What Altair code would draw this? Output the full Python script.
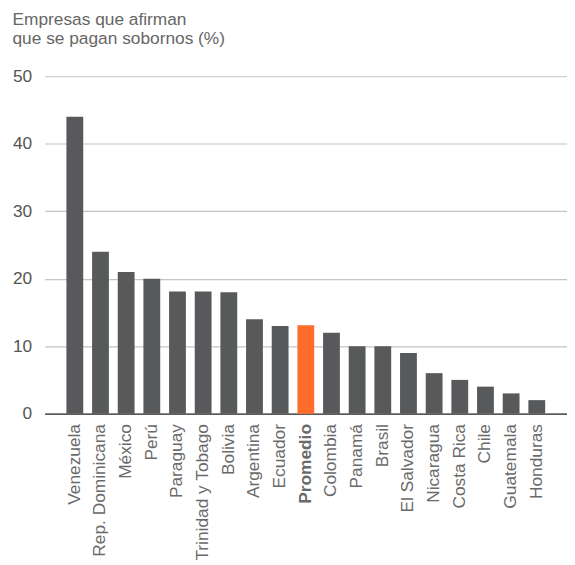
import altair as alt
import pandas as pd

paises = ["Venezuela", "Rep. Dominicana", "México", "Perú", "Paraguay",
          "Trinidad y Tobago", "Bolivia", "Argentina", "Ecuador", "Promedio",
          "Colombia", "Panamá", "Brasil", "El Salvador", "Nicaragua",
          "Costa Rica", "Chile", "Guatemala", "Honduras"]
valores = [44, 24, 21, 20, 18.1, 18.1, 18, 14, 13, 13.1,
           12, 10, 10, 9, 6, 5, 4, 3, 2]
y_ticks = [0, 10, 20, 30, 40, 50]

df = pd.DataFrame({"pais": paises, "valor": valores})
df["grupo"] = ["promedio" if p == "Promedio" else "pais" for p in paises]

FONT = "Liberation Sans"
FS = 17.5

chart = alt.Chart(df).mark_bar().encode(
    x=alt.X("pais:N", sort=paises, title=None,
            scale=alt.Scale(paddingInner=0.345, paddingOuter=0.85),
            axis=alt.Axis(labelAngle=-90, labelAlign="right", labelBaseline="middle",
                          labelPadding=10, ticks=False, domain=True,
                          domainColor="#333333", domainWidth=1.5,
                          labelFont=FONT, labelFontSize=FS, labelColor="#6a6a6a",
                          labelFontWeight={"condition": {"test": "datum.value === 'Promedio'", "value": "bold"}, "value": "normal"},
                          labelOverlap=False, grid=False)),
    y=alt.Y("valor:Q", title=None,
            scale=alt.Scale(domain=[0, 50], nice=False),
            axis=alt.Axis(values=y_ticks, ticks=False, domain=False, labelPadding=13,
                          labelFont=FONT, labelFontSize=FS, labelColor="#555555",
                          gridColor="#c4c4c4", gridWidth=1.2)),
    color=alt.Color("grupo:N", legend=None,
                    scale=alt.Scale(domain=["pais", "promedio"], range=["#58595b", "#ff6d2d"])),
).properties(
    width=528, height=341,
    padding={"left": 4, "top": 0, "right": 0, "bottom": 0},
    title=alt.Title(["Empresas que afirman", "que se pagan sobornos (%)"],
                    anchor="start", frame="bounds", font=FONT, fontSize=FS,
                    fontWeight="normal", color="#666666", lineHeight=19.5, offset=20),
).configure_view(stroke=None)

chart.save("out.html", embed_options={"renderer": "svg", "actions": False})
